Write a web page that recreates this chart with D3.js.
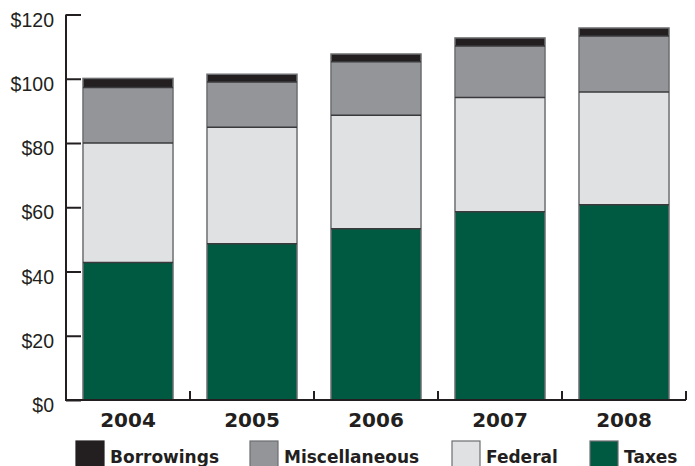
<!DOCTYPE html>
<html><head><meta charset="utf-8">
<script src="https://cdn.jsdelivr.net/npm/d3@7"></script>
<style>body{margin:0;background:#fff}svg{display:block}</style>
</head><body>
<svg id="c" width="695" height="466"></svg>
<script>
const years = ["2004","2005","2006","2007","2008"];
const seriesNames = ["Taxes","Federal","Miscellaneous","Borrowings"];
const taxes = [42.8, 48.6, 53.3, 58.6, 60.8];
const federal = [37.2, 36.3, 35.3, 35.6, 35.1];
const miscellaneous = [17.3, 14.1, 16.7, 16.0, 17.4];
const borrowings = [2.8, 2.4, 2.4, 2.5, 2.5];
const yTicks = [0, 20, 40, 60, 80, 100, 120];
const legendOrder = ["Borrowings","Miscellaneous","Federal","Taxes"];
const colors = {Taxes:"#005941", Federal:"#e0e1e3", Miscellaneous:"#939598", Borrowings:"#231f20"};

const svg = d3.select("#c");
const x = d3.scaleBand().domain(years).range([66, 686]).paddingInner(0.274).paddingOuter(0.137);
const y = d3.scaleLinear().domain([0, 120]).range([400, 14.5]);

const rows = years.map((yr, i) => ({year: yr, Taxes: taxes[i], Federal: federal[i], Miscellaneous: miscellaneous[i], Borrowings: borrowings[i]}));
const stack = d3.stack().keys(seriesNames)(rows);

const g = svg.append("g");
stack.forEach(s => {
  g.selectAll(null).data(s).enter().append("rect")
    .attr("x", d => x(d.data.year))
    .attr("width", x.bandwidth())
    .attr("y", d => y(d[1]))
    .attr("height", d => y(d[0]) - y(d[1]))
    .attr("fill", colors[s.key]);
});
const total = d => d.Taxes + d.Federal + d.Miscellaneous + d.Borrowings;
g.selectAll(null).data(rows).enter().append("rect")
  .attr("x", d => x(d.year))
  .attr("width", x.bandwidth())
  .attr("y", d => y(total(d)))
  .attr("height", d => y(0) - y(total(d)))
  .attr("fill", "none").attr("stroke", "#6d6e71").attr("stroke-width", 1.5);
stack.slice(0, 3).forEach(s => {
  g.selectAll(null).data(s).enter().append("line")
    .attr("x1", d => x(d.data.year)).attr("x2", d => x(d.data.year) + x.bandwidth())
    .attr("y1", d => y(d[1])).attr("y2", d => y(d[1]))
    .attr("stroke", "#3a3a3c").attr("stroke-width", 1.5);
});

// y axis
const yAxis = d3.axisRight(y).tickValues(yTicks).tickSize(15).tickFormat("");
const ya = svg.append("g").attr("transform", "translate(66,0)").call(yAxis);
ya.select(".domain").attr("stroke", "#231f20").attr("stroke-width", 2).attr("d", "M0," + y(120) + "V" + y(0));
ya.selectAll(".tick line").attr("stroke", "#231f20").attr("stroke-width", 2);
svg.append("g").selectAll("text").data(yTicks).enter().append("text")
  .attr("x", 54).attr("y", d => y(d) + 12)
  .attr("text-anchor", "end")
  .style("font-family", "Liberation Sans, Arial, sans-serif").style("font-size", "19.5px").attr("fill", "#231f20")
  .text(d => "$" + d);

// x axis
const bounds = years.map(yr => x(yr) + x.bandwidth() + x.step() * x.paddingInner() / 2);
svg.append("line").attr("x1", 65).attr("x2", bounds[bounds.length - 1]).attr("y1", 400).attr("y2", 400)
  .attr("stroke", "#231f20").attr("stroke-width", 2);
svg.append("g").selectAll("line").data(bounds).enter().append("line")
  .attr("x1", d => d).attr("x2", d => d).attr("y1", 400).attr("y2", 391)
  .attr("stroke", "#231f20").attr("stroke-width", 2);
svg.append("g").selectAll("text").data(years).enter().append("text")
  .attr("x", d => x(d) + x.bandwidth() / 2).attr("y", 427)
  .attr("text-anchor", "middle")
  .style("font-family", "DejaVu Sans, sans-serif").style("font-weight", "bold").style("font-size", "20px").attr("fill", "#231f20")
  .text(d => d);

// legend
const legX = [76, 250, 452, 590];
const lg = svg.append("g").selectAll("g").data(legendOrder).enter().append("g")
  .attr("transform", (d, i) => "translate(" + legX[i] + ",441)");
lg.append("rect").attr("width", 28).attr("height", 27)
  .attr("fill", d => colors[d])
  .attr("stroke", d => d === "Borrowings" ? colors[d] : "#6d6e71").attr("stroke-width", 1.2);
lg.append("text").attr("x", 34).attr("y", 21.5)
  .style("font-family", "DejaVu Sans, sans-serif").style("font-weight", "bold").style("font-size", "17px").attr("fill", "#231f20")
  .text(d => d);
</script>
</body></html>
